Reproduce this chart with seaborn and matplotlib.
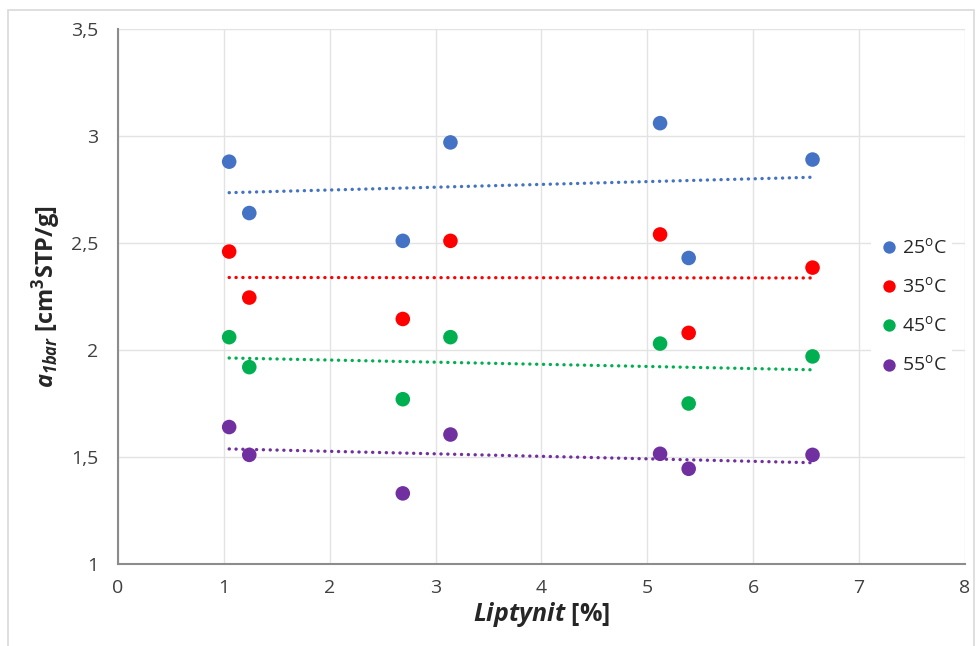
import numpy as np
import pandas as pd
import matplotlib
matplotlib.use('Agg')
import matplotlib.pyplot as plt
from matplotlib.patches import Rectangle
import seaborn as sns

# data
liptynit = [1.05, 1.24, 2.69, 3.14, 5.12, 5.39, 6.56]
a_25 = [2.88, 2.64, 2.51, 2.97, 3.06, 2.43, 2.89]
a_35 = [2.46, 2.245, 2.145, 2.51, 2.54, 2.08, 2.385]
a_45 = [2.06, 1.92, 1.77, 2.06, 2.03, 1.75, 1.97]
a_55 = [1.64, 1.51, 1.33, 1.605, 1.515, 1.445, 1.51]
series_names = ['25$^{\\mathregular{o}}$C', '35$^{\\mathregular{o}}$C',
                '45$^{\\mathregular{o}}$C', '55$^{\\mathregular{o}}$C']
colors = ['#4472C4', '#FF0000', '#00B050', '#7030A0']
x_ticks = [0, 1, 2, 3, 4, 5, 6, 7, 8]
y_ticks = [1, 1.5, 2, 2.5, 3, 3.5]
y_ticklabels = ['1', '1,5', '2', '2,5', '3', '3,5']

frames = []
for name, vals in zip(series_names, [a_25, a_35, a_45, a_55]):
    frames.append(pd.DataFrame({'Liptynit': liptynit, 'a1bar': vals, 'T': name}))
df = pd.concat(frames, ignore_index=True)

sns.set_style('white')
plt.rcParams['font.family'] = ['Open Sans', 'DejaVu Sans']
plt.rcParams['mathtext.fontset'] = 'custom'
plt.rcParams['mathtext.it'] = 'Open Sans:italic:bold'
plt.rcParams['mathtext.rm'] = 'Open Sans:italic:bold'

fig = plt.figure(figsize=(9.79, 6.46), dpi=100)
ax = fig.add_axes([118 / 979, 1 - 564 / 646, (965 - 118) / 979, (564 - 29) / 646])

# outer chart border
fig.patches.append(Rectangle((8 / 979, -0.01), (974 - 8) / 979, 1 - 10 / 646 + 0.01,
                             transform=fig.transFigure, fill=False,
                             edgecolor='#D9D9D9', lw=1.2, zorder=0))

for name, c in zip(series_names, colors):
    sub = df[df['T'] == name]
    sns.regplot(data=sub, x='Liptynit', y='a1bar', ax=ax, scatter=False, ci=None,
                color=c, line_kws=dict(ls=(0, (0.05, 2.0)), lw=2.4,
                                       dash_capstyle='round'))

sns.scatterplot(data=df, x='Liptynit', y='a1bar', hue='T', palette=colors, ax=ax,
                s=110, linewidth=0, zorder=3, legend=True)

ax.set_xlim(0, 8)
ax.set_ylim(1, 3.5)
ax.set_xticks(x_ticks)
ax.set_yticks(y_ticks)
ax.set_yticklabels(y_ticklabels)
ax.grid(True, color='#E3E3E3', lw=1)
ax.set_axisbelow(True)
ax.tick_params(length=0, labelsize=14, colors='#404040')
ax.tick_params(axis='y', pad=14)
ax.tick_params(axis='x', pad=11)
for s in ['top', 'right']:
    ax.spines[s].set_visible(False)
for s in ['left', 'bottom']:
    ax.spines[s].set_color('#8C8C8C')
    ax.spines[s].set_linewidth(1.5)

ax.set_xlabel('$\\mathit{Liptynit}$ [%]', fontsize=18, fontweight='bold', labelpad=2)
ax.set_ylabel('$\\mathit{a}_{\\mathit{1bar}}$ [cm$^{\\mathregular{3}}$STP/g]',
              fontsize=17, fontweight='bold', labelpad=6)

handles, labels = ax.get_legend_handles_labels()
leg = ax.legend(handles, labels, loc='upper left', bbox_to_anchor=(0.878, 0.64),
                frameon=True, facecolor='white', edgecolor='none', fancybox=False,
                fontsize=14, labelspacing=0.95, handletextpad=0.05, borderpad=0.3,
                handlelength=1.2, markerscale=0.85, framealpha=1)
leg.get_frame().set_linewidth(0)

fig.savefig('out.png', dpi=100)
